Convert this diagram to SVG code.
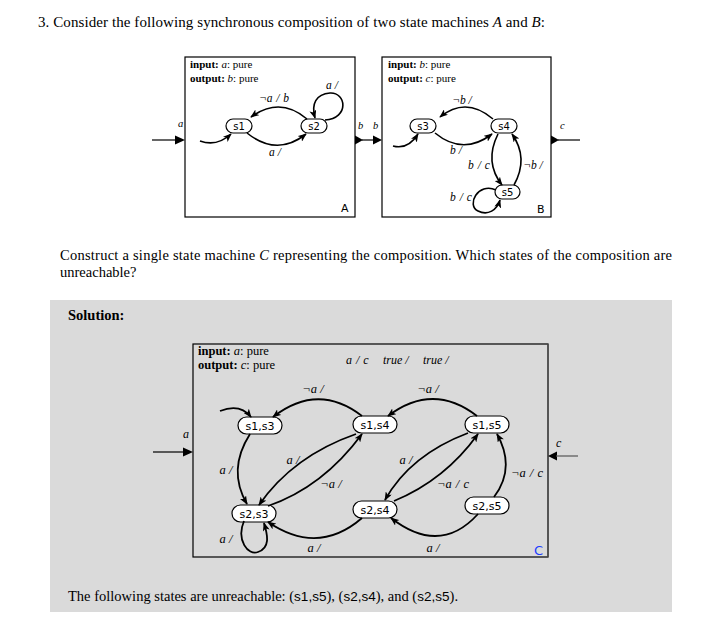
<svg xmlns="http://www.w3.org/2000/svg" width="726" height="637" viewBox="0 0 726 637">
<defs>
<style>
.t{font-family:"Liberation Serif","Times New Roman",serif;fill:#000}
.it{font-family:"Liberation Serif","Times New Roman",serif;font-style:italic;fill:#000}
.sn{font-family:"DejaVu Sans","Liberation Sans",sans-serif;fill:#000}
.edge{fill:none;stroke:#000;stroke-width:1.6;marker-end:url(#ah)}
.edgeC{fill:none;stroke:#000;stroke-width:1.8;marker-end:url(#ah)}
.node{fill:#fff;stroke:#000;stroke-width:1.2}
.box{fill:none;stroke:#000;stroke-width:1.2}
.port{stroke:#000;stroke-width:1.2;fill:none}
</style>
<marker id="ah" viewBox="0 0 10 8" refX="9" refY="4" markerWidth="9" markerHeight="7" orient="auto" markerUnits="userSpaceOnUse"><path d="M0,0 L10,4 L0,8 L2.5,4 z" fill="#000"/></marker>
</defs>
<rect width="726" height="637" fill="#fff"/>

<text class="t" x="38" y="27" font-size="15" textLength="507" lengthAdjust="spacing">3.  Consider the following synchronous composition of two state machines <tspan font-style="italic">A</tspan> and <tspan font-style="italic">B</tspan>:</text>

<!-- Machine A -->
<g id="machineA">
<rect class="box" x="185" y="57" width="170" height="160"/>
<text class="t" x="190" y="68" font-size="11"><tspan font-weight="bold">input:</tspan> <tspan font-style="italic">a</tspan>: pure</text>
<text class="t" x="190" y="82" font-size="11"><tspan font-weight="bold">output:</tspan> <tspan font-style="italic">b</tspan>: pure</text>
<text class="sn" x="341" y="212" font-size="11">A</text>
</g>
<g id="s1"><rect class="node" x="226" y="119" width="26" height="14" rx="7"/><text class="sn" x="239" y="130" font-size="10" text-anchor="middle">s1</text></g>
<g id="s2"><rect class="node" x="301" y="119" width="26" height="14" rx="7"/><text class="sn" x="314" y="130" font-size="10" text-anchor="middle">s2</text></g>

<!-- Machine B -->
<g id="machineB">
<rect class="box" x="382" y="57" width="169" height="160"/>
<text class="t" x="388" y="68" font-size="11"><tspan font-weight="bold">input:</tspan> <tspan font-style="italic">b</tspan>: pure</text>
<text class="t" x="388" y="82" font-size="11"><tspan font-weight="bold">output:</tspan> <tspan font-style="italic">c</tspan>: pure</text>
<text class="sn" x="537" y="213" font-size="11">B</text>
</g>
<g id="s3"><rect class="node" x="410" y="119" width="26" height="14" rx="7"/><text class="sn" x="423" y="130" font-size="10" text-anchor="middle">s3</text></g>
<g id="s4"><rect class="node" x="491" y="119" width="26" height="14" rx="7"/><text class="sn" x="504" y="130" font-size="10" text-anchor="middle">s4</text></g>
<g id="s5"><rect class="node" x="495" y="185" width="25" height="14" rx="7"/><text class="sn" x="507.5" y="196" font-size="10" text-anchor="middle">s5</text></g>

<g id="connectorsAB">
<line class="port" x1="152" y1="140" x2="176" y2="140"/>
<path d="M175,135.5 L185,140 L175,144.5 z" fill="#000"/>
<path d="M355,135.5 L363,140 L355,144.5 z" fill="#000"/>
<line class="port" x1="362" y1="140" x2="374" y2="140"/>
<path d="M373,135.5 L382,140 L373,144.5 z" fill="#000"/>
<path d="M551,135.5 L559,140 L551,144.5 z" fill="#000"/>
<line class="port" x1="558" y1="140" x2="580" y2="140"/>
<path class="edge" d="M200,141 Q217,147 231,134"/>
<path class="edge" d="M247,133 Q277,157 306,134"/>
<path class="edge" d="M307,119 Q280,96 251,117"/>
<path class="edge" d="M325,120 C350,118 346,92 330,93 C316,94 311,104 315,118"/>
<path class="edge" d="M393,146 Q408,150 418,134"/>
<path class="edge" d="M435,133 Q463,156 492,134"/>
<path class="edge" d="M493,119 Q466,96 440,117"/>
<path class="edge" d="M498,134 Q484,162 502,185"/>
<path class="edge" d="M514,185 Q529,158 512,134"/>
<path class="edge" d="M496,190 C478,182 466,205 478,211 C488,216 497,210 500,200"/>
</g>
<g id="labelsAB">
<text class="it" x="178" y="127" font-size="10.5">a</text>
<text class="it" x="358" y="129" font-size="10.5">b</text>
<text class="it" x="373" y="129" font-size="10.5">b</text>
<text class="it" x="560" y="129" font-size="10.5">c</text>
<text class="it" x="274" y="102" font-size="11.5" text-anchor="middle" word-spacing="1">¬a / b</text>
<text class="it" x="275" y="156" font-size="11.5" text-anchor="middle">a /</text>
<text class="it" x="332" y="89" font-size="11.5" text-anchor="middle">a /</text>
<text class="it" x="462" y="104" font-size="11.5" text-anchor="middle">¬b /</text>
<text class="it" x="456" y="154" font-size="11.5" text-anchor="middle">b /</text>
<text class="it" x="479" y="169" font-size="11.5" text-anchor="middle" word-spacing="1">b / c</text>
<text class="it" x="533" y="169" font-size="11.5" text-anchor="middle">¬b /</text>
<text class="it" x="461" y="201" font-size="11.5" text-anchor="middle" word-spacing="1">b / c</text>
</g>

<text class="t" x="60" y="260" font-size="14.5" textLength="612" lengthAdjust="spacing">Construct a single state machine <tspan font-style="italic">C</tspan> representing the composition.  Which states of the composition are</text>
<text class="t" x="60" y="277" font-size="14.5">unreachable?</text>

<rect x="50" y="300" width="622" height="312" fill="#dadada"/>
<text class="t" x="68" y="320" font-size="14.5" font-weight="bold">Solution:</text>

<g id="machineC">
<rect class="box" x="193" y="344" width="355" height="213"/>
<line x1="548" y1="344" x2="548" y2="557" stroke="#555" stroke-width="1.4"/>
<text class="t" x="198" y="355" font-size="12.5"><tspan font-weight="bold">input:</tspan> <tspan font-style="italic">a</tspan>: pure</text>
<text class="t" x="198" y="369" font-size="12.5"><tspan font-weight="bold">output:</tspan> <tspan font-style="italic">c</tspan>: pure</text>
<text class="it" x="346" y="364" font-size="12" word-spacing="1">a / c</text>
<text class="it" x="383" y="364" font-size="12">true /</text>
<text class="it" x="423" y="364" font-size="12">true /</text>
<text x="534" y="555" font-size="13" font-family="DejaVu Sans, Liberation Sans, sans-serif" fill="#1a3cff">C</text>
</g>
<g id="n13"><rect class="node" x="238" y="417" width="44" height="17" rx="8.5"/><text class="sn" x="260" y="429.5" font-size="11" text-anchor="middle">s1,s3</text></g>
<g id="n14"><rect class="node" x="353" y="416" width="44" height="17" rx="8.5"/><text class="sn" x="375" y="428.5" font-size="11" text-anchor="middle">s1,s4</text></g>
<g id="n15"><rect class="node" x="465" y="416" width="44" height="17" rx="8.5"/><text class="sn" x="487" y="428.5" font-size="11" text-anchor="middle">s1,s5</text></g>
<g id="n23"><rect class="node" x="232" y="505" width="44" height="17" rx="8.5"/><text class="sn" x="254" y="517.5" font-size="11" text-anchor="middle">s2,s3</text></g>
<g id="n24"><rect class="node" x="353" y="501" width="44" height="17" rx="8.5"/><text class="sn" x="375" y="513.5" font-size="11" text-anchor="middle">s2,s4</text></g>
<g id="n25"><rect class="node" x="465" y="497" width="44" height="17" rx="8.5"/><text class="sn" x="487" y="509.5" font-size="11" text-anchor="middle">s2,s5</text></g>

<g id="connectorsC">
<line class="port" x1="153" y1="452" x2="184" y2="452"/>
<path d="M183,447.5 L193,452 L183,456.5 z" fill="#000"/>
<path d="M548,456 L557,451.5 L557,460.5 z" fill="#000"/>
<line x1="556" y1="456" x2="578" y2="456" stroke="#555" stroke-width="1.2"/>
<path class="edgeC" d="M220,411 Q240,403 251,417"/>
<path class="edgeC" d="M362,416 Q318,382 273,417"/>
<path class="edgeC" d="M477,416 Q433,382 388,416"/>
<path class="edgeC" d="M250,434 Q227,470 247,504"/>
<path class="edgeC" d="M356,434 Q293,456 259,505"/>
<path class="edgeC" d="M268,506 Q323,487 362,434"/>
<path class="edgeC" d="M468,433 Q410,455 385,500"/>
<path class="edgeC" d="M394,501 Q445,480 478,434"/>
<path class="edgeC" d="M494,497 Q516,468 497,434"/>
<path class="edgeC" d="M362,518 Q318,556 268,522"/>
<path class="edgeC" d="M478,514 Q440,556 391,518"/>
<path class="edgeC" d="M244,521 C236,540 248,556 258,552 C270,548 268,536 264,523"/>
</g>
<g id="labelsC">
<text class="it" x="183" y="438" font-size="12">a</text>
<text class="it" x="556" y="447" font-size="12">c</text>
<text class="it" x="313" y="393" font-size="12.5" text-anchor="middle">¬a /</text>
<text class="it" x="428" y="393" font-size="12.5" text-anchor="middle">¬a /</text>
<text class="it" x="226" y="474" font-size="12.5" text-anchor="middle">a /</text>
<text class="it" x="293" y="464" font-size="12.5" text-anchor="middle">a /</text>
<text class="it" x="331" y="488" font-size="12.5" text-anchor="middle">¬a /</text>
<text class="it" x="406" y="464" font-size="12.5" text-anchor="middle">a /</text>
<text class="it" x="453" y="488" font-size="12.5" text-anchor="middle" word-spacing="1">¬a / c</text>
<text class="it" x="527" y="477" font-size="12.5" text-anchor="middle" word-spacing="1">¬a / c</text>
<text class="it" x="314" y="552" font-size="12.5" text-anchor="middle">a /</text>
<text class="it" x="433" y="552" font-size="12.5" text-anchor="middle">a /</text>
<text class="it" x="226" y="543" font-size="12.5" text-anchor="middle">a /</text>
</g>

<text class="t" x="68" y="601" font-size="14.5" textLength="390" lengthAdjust="spacing">The following states are unreachable: (<tspan font-family="Liberation Sans, Arial, sans-serif" font-size="13.5">s1,s5</tspan>), (<tspan font-family="Liberation Sans, Arial, sans-serif" font-size="13.5">s2,s4</tspan>), and (<tspan font-family="Liberation Sans, Arial, sans-serif" font-size="13.5">s2,s5</tspan>).</text>
</svg>
